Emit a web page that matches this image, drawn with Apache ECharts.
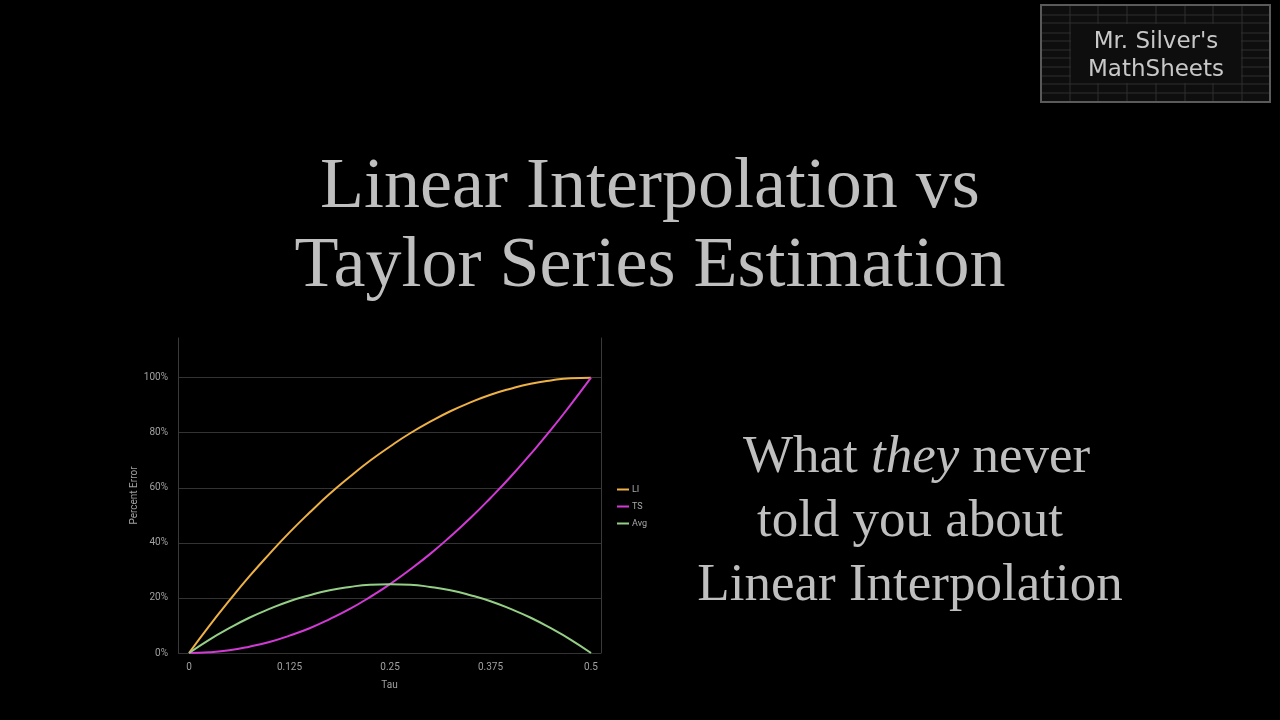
<!DOCTYPE html>
<html>
<head>
<meta charset="utf-8">
<script src="https://cdn.jsdelivr.net/npm/echarts@6/dist/echarts.min.js"></script>
<style>
  html, body { margin: 0; padding: 0; background: #000; }
  #main { width: 1280px; height: 720px; }
</style>
</head>
<body>
<div id="main"></div>
<script>
// tau values on the x axis
var tau = [0, 0.025, 0.05, 0.075, 0.1, 0.125, 0.15, 0.175, 0.2, 0.225, 0.25,
  0.275, 0.3, 0.325, 0.35, 0.375, 0.4, 0.425, 0.45, 0.475, 0.5];
// percent error
var liErr = [0, 9.8, 19, 27.8, 36, 43.8, 51, 57.8, 64, 69.8, 75,
  79.8, 84, 87.8, 91, 93.8, 96, 97.8, 99, 99.8, 100];
var tsErr = [0, 0.3, 1, 2.3, 4, 6.3, 9, 12.3, 16, 20.3, 25,
  30.3, 36, 42.3, 49, 56.3, 64, 72.3, 81, 90.3, 100];
var avgErr = [0, 4.8, 9, 12.8, 16, 18.8, 21, 22.8, 24, 24.8, 25,
  24.8, 24, 22.8, 21, 18.8, 16, 12.8, 9, 4.8, 0];
var xTicks = [0, 0.125, 0.25, 0.375, 0.5];
var yTicks = [0, 20, 40, 60, 80, 100];

function pairs(ys) {
  var out = [];
  for (var i = 0; i < tau.length; i++) {
    out.push([tau[i], ys[i]]);
  }
  return out;
}

var chart = echarts.init(document.getElementById('main'));

// logo box top right (spreadsheet look)
var logo = [];
logo.push({ type: 'rect', shape: { x: 1041, y: 5, width: 229, height: 97 },
  style: { fill: '#0e0e0e', stroke: '#5a5a5a', lineWidth: 2 } });
var cols = [1070, 1098, 1127, 1156, 1185, 1213, 1242];
var rows = [15, 23, 33, 41, 50, 58, 67, 76, 84, 93];
cols.forEach(function (x) {
  logo.push({ type: 'line', shape: { x1: x, y1: 6, x2: x, y2: 101 },
    style: { stroke: '#2e2e2e', lineWidth: 1 } });
});
rows.forEach(function (y) {
  logo.push({ type: 'line', shape: { x1: 1042, y1: y, x2: 1269, y2: y },
    style: { stroke: '#2e2e2e', lineWidth: 1 } });
});
logo.push({ type: 'rect', shape: { x: 1071, y: 24, width: 170, height: 59 },
  style: { fill: '#0e0e0e' } });
logo.push({ type: 'text',
  style: { x: 1156, y: 28, text: "Mr. Silver's\nMathSheets", fill: '#c8c8c8',
    font: '23px "DejaVu Sans"', textAlign: 'center', textVerticalAlign: 'top', lineHeight: 28 } });

var option = {
  backgroundColor: '#000',
  animation: false,
  title: [{
    text: 'Linear Interpolation vs\nTaylor Series Estimation',
    left: 645,
    top: 144,
    textAlign: 'center',
    textStyle: {
      fontFamily: '"Liberation Serif", serif',
      fontSize: 72,
      fontWeight: 'normal',
      lineHeight: 79,
      color: '#bfbfbf'
    }
  }, {
    text: '\u00a0What {i|they} never\ntold you about\nLinear Interpolation',
    left: 905,
    top: 421,
    textAlign: 'center',
    textStyle: {
      fontFamily: '"Liberation Serif", serif',
      fontSize: 53,
      fontWeight: 'normal',
      lineHeight: 64,
      color: '#bfbfbf',
      rich: {
        i: {
          fontFamily: '"Liberation Serif", serif',
          fontSize: 53,
          fontStyle: 'italic',
          lineHeight: 64,
          color: '#bfbfbf'
        }
      }
    }
  }],
  legend: {
    orient: 'vertical',
    left: 612,
    top: 480,
    itemWidth: 12,
    itemHeight: 2,
    itemGap: 8,
    icon: 'rect',
    textStyle: { color: '#a8a8a8', fontSize: 9, fontFamily: 'Roboto', padding: [0, 0, 0, -2] },
    data: ['LI', 'TS', 'Avg']
  },
  grid: {
    left: 178,
    right: 679,
    top: 338,
    bottom: 67,
    containLabel: false
  },
  xAxis: {
    type: 'value',
    min: -0.0137,
    max: 0.5124,
    name: 'Tau',
    nameLocation: 'middle',
    nameGap: 27,
    nameTextStyle: { color: '#a0a0a0', fontSize: 10, fontFamily: 'Roboto' },
    axisLine: { show: false },
    axisTick: { show: false, customValues: xTicks },
    splitLine: { show: false },
    axisLabel: {
      customValues: xTicks,
      color: '#a0a0a0',
      fontSize: 10,
      fontFamily: 'Roboto',
      margin: 9
    }
  },
  yAxis: [{
    type: 'value',
    min: 0,
    max: 114.4,
    name: 'Percent Error',
    nameLocation: 'middle',
    nameGap: 39,
    nameTextStyle: { color: '#a0a0a0', fontSize: 10, fontFamily: 'Roboto' },
    axisLine: { show: true, onZero: false, lineStyle: { color: '#3a3a3a', width: 1 } },
    axisTick: { show: false, customValues: yTicks },
    splitLine: { show: true, lineStyle: { color: '#333333', width: 1 } },
    axisLabel: {
      customValues: yTicks,
      formatter: '{value}%',
      color: '#a0a0a0',
      fontSize: 10,
      fontFamily: 'Roboto',
      margin: 10
    }
  }, {
    type: 'value',
    position: 'right',
    min: 0,
    max: 114.4,
    axisLine: { show: true, onZero: false, lineStyle: { color: '#3a3a3a', width: 1 } },
    axisTick: { show: false },
    axisLabel: { show: false },
    splitLine: { show: false }
  }],
  series: [{
    name: 'LI',
    type: 'line',
    smooth: true,
    showSymbol: false,
    data: pairs(liErr),
    lineStyle: { width: 2, color: '#eeb145' },
    itemStyle: { color: '#eeb145' }
  }, {
    name: 'TS',
    type: 'line',
    smooth: true,
    showSymbol: false,
    data: pairs(tsErr),
    lineStyle: { width: 2, color: '#d23ad6' },
    itemStyle: { color: '#d23ad6' }
  }, {
    name: 'Avg',
    type: 'line',
    smooth: true,
    showSymbol: false,
    data: pairs(avgErr),
    lineStyle: { width: 2, color: '#95cf86' },
    itemStyle: { color: '#95cf86' }
  }],
  graphic: logo
};

chart.setOption(option);
</script>
</body>
</html>
